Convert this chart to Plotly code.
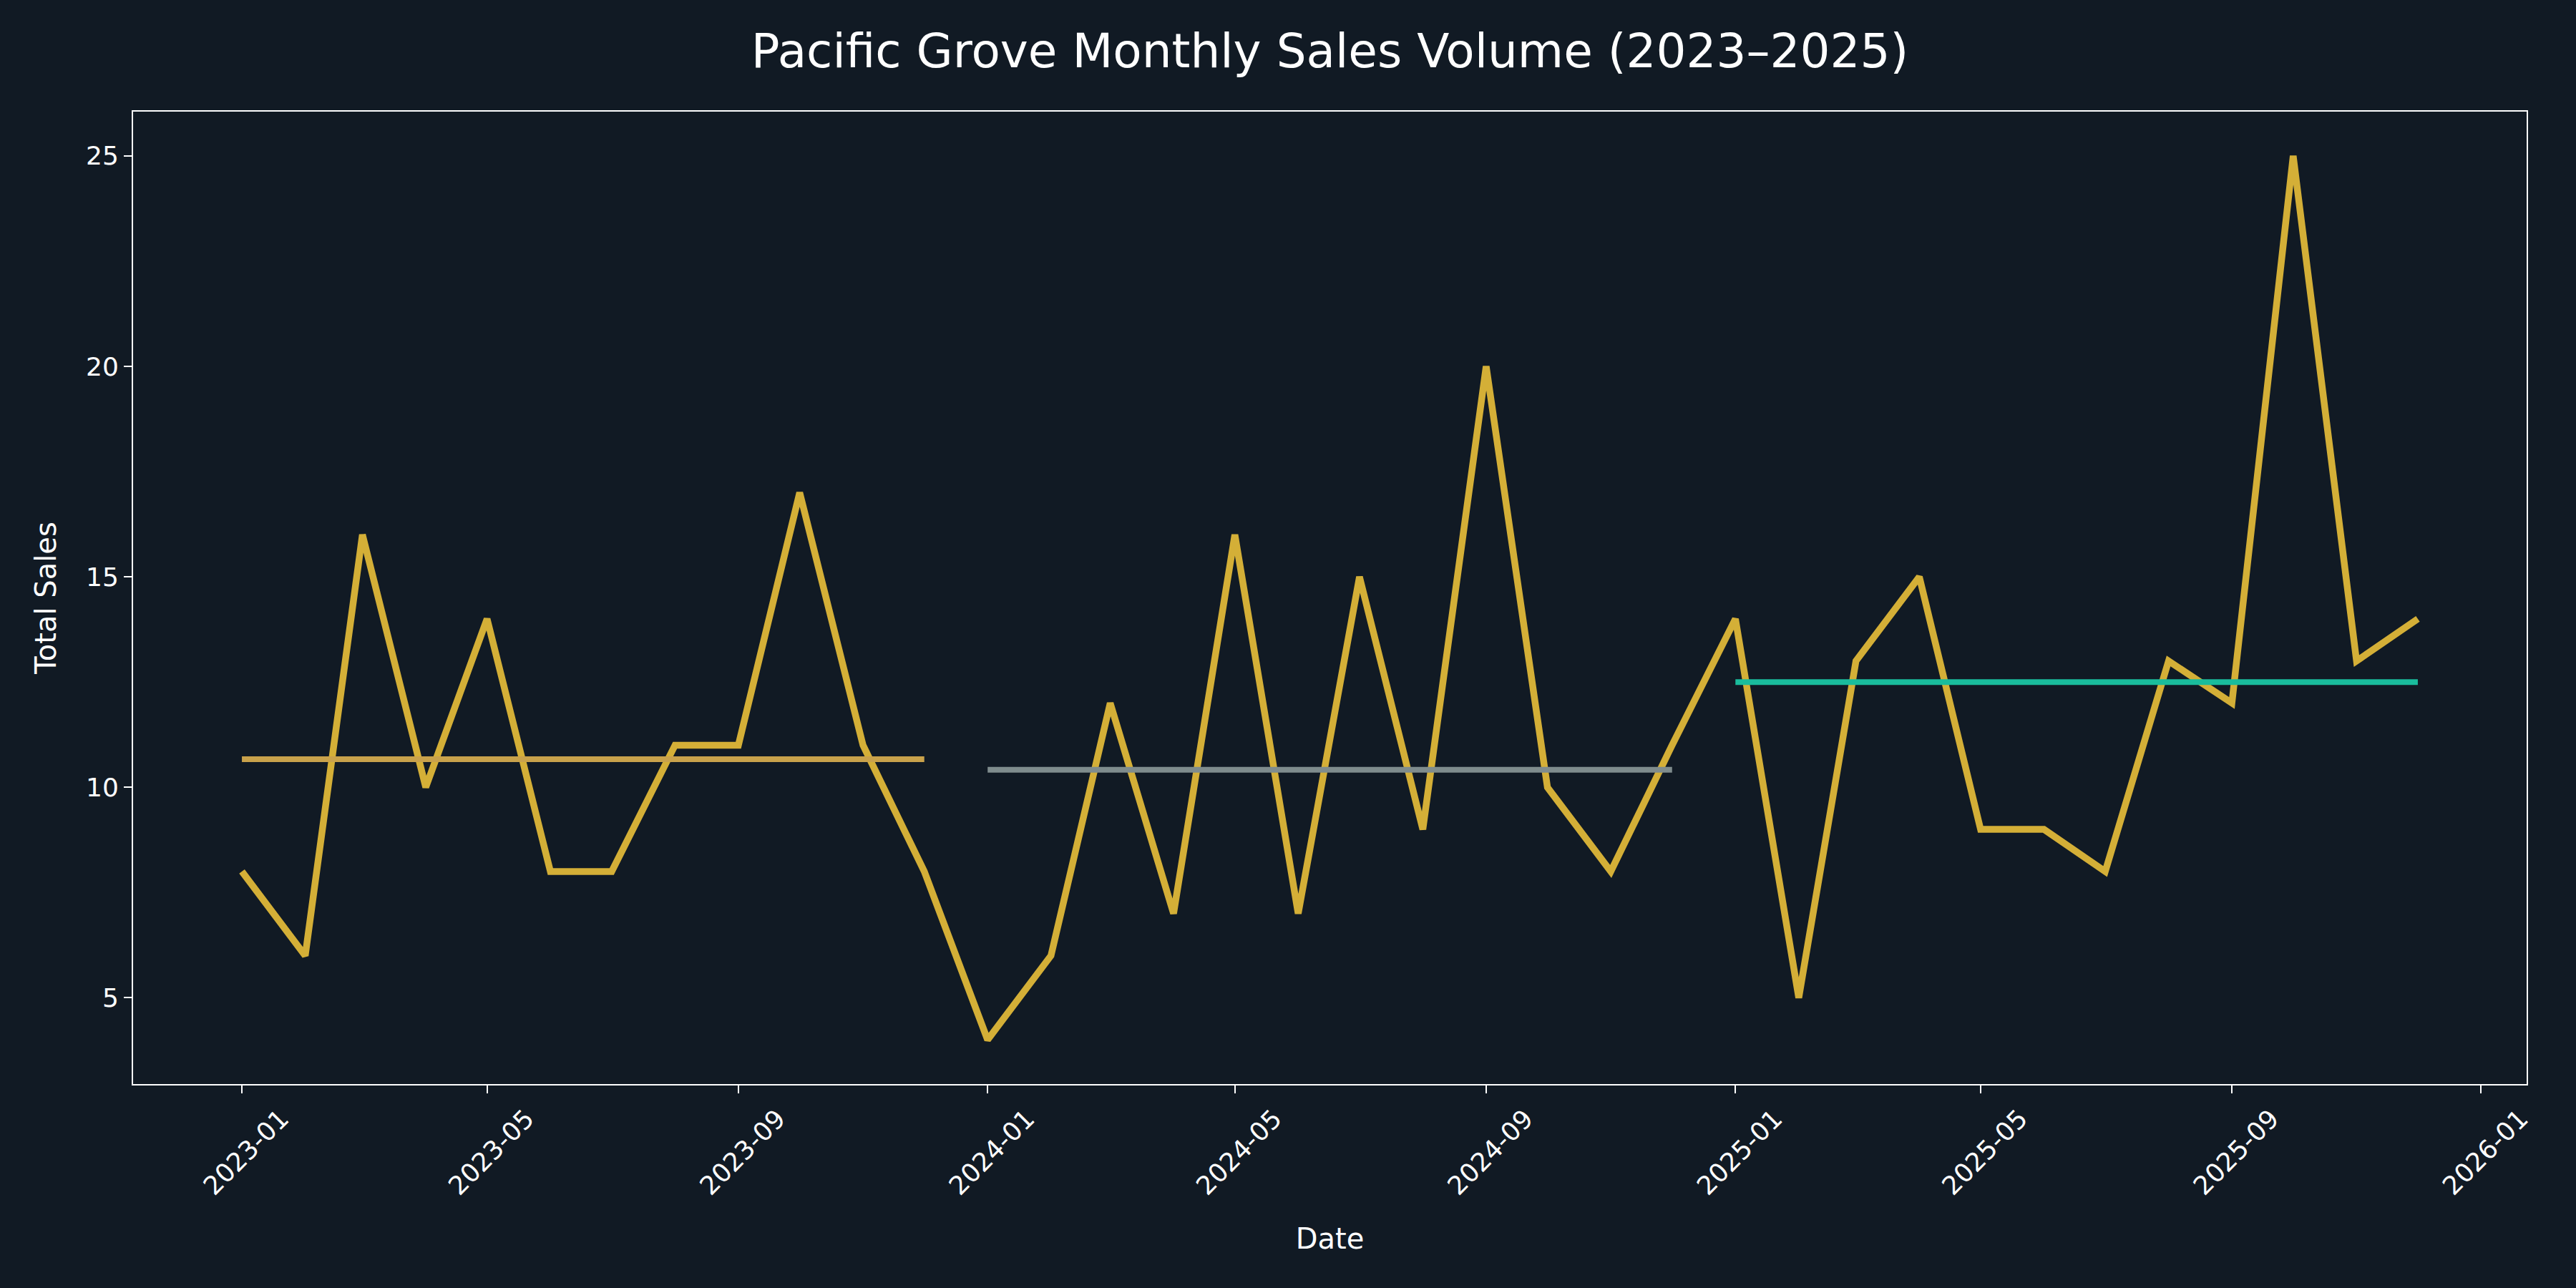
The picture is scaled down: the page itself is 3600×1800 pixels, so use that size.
import pandas as pd
import plotly.graph_objects as go

# monthly totals
months = pd.date_range("2023-01-01", "2025-12-01", freq="MS")
sales_2023 = [8, 6, 16, 10, 14, 8, 8, 11, 11, 17, 11, 8]
sales_2024 = [4, 6, 12, 7, 16, 7, 15, 9, 20, 10, 8, 11]
sales_2025 = [14, 5, 13, 15, 9, 9, 8, 13, 12, 25, 13, 14]
sales = sales_2023 + sales_2024 + sales_2025

years = [2023, 2024, 2025]
mean_colors = ["#C9A24B", "#7F8C8D", "#1ABC9C"]

BG = "#111A24"
FONT = "DejaVu Sans"

fig = go.Figure()
fig.add_trace(go.Scatter(x=months, y=sales, mode="lines",
                         line=dict(color="#D4AF37", width=9.5),
                         showlegend=False))

# yearly average lines, Jan..Dec of each year
for yr, vals, col in zip(years, [sales_2023, sales_2024, sales_2025], mean_colors):
    avg = sum(vals) / len(vals)
    fig.add_trace(go.Scatter(x=[pd.Timestamp(f"{yr}-01-01"), pd.Timestamp(f"{yr}-12-01")],
                             y=[avg, avg], mode="lines",
                             line=dict(color=col, width=8),
                             showlegend=False))

# matplotlib style 5% padding
pad = (months[-1] - months[0]) * 0.05
ymin, ymax = min(sales), max(sales)
ypad = (ymax - ymin) * 0.05

fig.update_xaxes(range=[months[0] - pad, months[-1] + pad],
                 tick0="2023-01-01", dtick="M4", tickformat="%Y-%m",
                 tickangle=-45, ticklabelshift=55,
                 ticks="outside", ticklen=11, tickwidth=2, tickcolor="white",
                 showline=True, linecolor="white", linewidth=2, mirror=True,
                 showgrid=False, zeroline=False,
                 tickfont=dict(color="white", size=36, family=FONT),
                 title=dict(text="Date", font=dict(color="white", size=40, family=FONT), standoff=40))
fig.update_yaxes(range=[ymin - ypad, ymax + ypad],
                 tickvals=[5, 10, 15, 20, 25],
                 ticks="outside", ticklen=11, tickwidth=2, tickcolor="white",
                 showline=True, linecolor="white", linewidth=2, mirror=True,
                 showgrid=False, zeroline=False,
                 tickfont=dict(color="white", size=36, family=FONT),
                 title=dict(text="Total Sales", font=dict(color="white", size=40, family=FONT), standoff=29))

fig.update_layout(width=3600, height=1800,
                  paper_bgcolor=BG, plot_bgcolor=BG,
                  margin=dict(l=186, r=69, t=156, b=285),
                  title=dict(text="Pacific Grove Monthly Sales Volume (2023\u20132025)",
                             xref="paper", x=0.5, xanchor="center",
                             y=1 - 71 / 1800, yanchor="middle",
                             font=dict(color="white", size=66, family=FONT)))

# drop the default page margin so the figure fills the window
fig.write_html("out.html", config={"displayModeBar": False},
               post_script="document.body.style.margin='0';")
